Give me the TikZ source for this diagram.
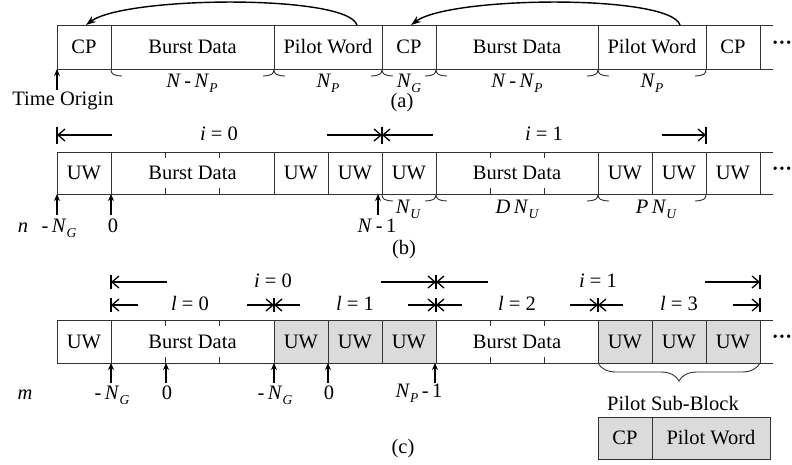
\documentclass[tikz,border=0pt]{standalone}
\usepackage{fontspec}
\setmainfont{Liberation Serif}
\usetikzlibrary{arrows.meta,decorations.pathreplacing,calc}
\newcommand{\Sb}[1]{\raisebox{-0.26em}{\fontsize{13.5}{14}\selectfont\itshape #1}}
\newcommand{\vN}{\textit{N}}
\newcommand{\cell}[7][white]{\node[cellbox,fill=#1,minimum width={(#4-#3)*1pt},minimum height={#6*1pt}] (#2) at (#3,#5) {#7};}
\newcommand{\lcurl}[2]{\draw[cline] (#1,#2) .. controls (#1,#2+5) and (#1+2,#2+6.5) .. (#1+11,#2+7);}
\newcommand{\rcurl}[2]{\draw[cline] (#1,#2) .. controls (#1,#2+5) and (#1-2,#2+6.5) .. (#1-11,#2+7);}
\begin{document}
\begin{tikzpicture}[x=1pt,y=-1pt,
  every node/.style={font=\fontsize{20.5}{24}\selectfont, inner sep=0pt, outer sep=0pt},
  cellbox/.style={draw=black!80, line width=0.9pt, anchor=north west},
  cline/.style={draw=black!80, line width=0.9pt},
  lab/.style={anchor=base},
  iarr/.style={line width=1.3pt, -{Straight Barb[length=7pt,width=12pt,line width=1.3pt]}},
  barline/.style={line width=1.1pt},
  uparr/.style={line width=1.3pt, -{Stealth[length=7pt,width=6pt]}},
  curvarr/.style={line width=1.4pt, -{Stealth[length=10pt,width=7pt]}}]
\useasboundingbox (0,0) rectangle (792,464);

% ---------------- Row (a) ----------------
\cell{a1}{57}{111}{25}{44}{CP}
\cell{a2}{111}{274}{25}{44}{Burst Data}
\cell{a3}{274}{382}{25}{44}{Pilot Word}
\cell{a4}{382}{436}{25}{44}{CP}
\cell{a5}{436}{598}{25}{44}{Burst Data}
\cell{a6}{598}{706}{25}{44}{Pilot Word}
\cell{a7}{706}{760}{25}{44}{CP}
\draw[cline] (a7.north east) -- ++(13,0) (a7.south east) -- ++(13,0);
\node (adots) at (782,45) {\textbf{···}};

\coordinate (cA1) at (357,25);
\coordinate (cA2) at (86,25);
\coordinate (cB1) at (680,25);
\coordinate (cB2) at (411,25);
\draw[curvarr] (cA1) .. controls (347,-6) and (125,-4) .. (cA2);
\draw[curvarr] (cB1) .. controls (670,-6) and (450,-4) .. (cB2);

\lcurl{111}{69} \rcurl{274}{69}
\lcurl{274}{69} \rcurl{382}{69}
\lcurl{382}{69} \rcurl{436}{69}
\lcurl{436}{69} \rcurl{598}{69}
\lcurl{598}{69} \rcurl{706}{69}

\node[lab] (la1) at (192,87) {\vN\,-\,\vN\Sb{P}};
\node[lab] (la2) at (328,87) {\vN\Sb{P}};
\node[lab] (la3) at (409,87) {\vN\Sb{G}};
\node[lab] (la4) at (517,87) {\vN\,-\,\vN\Sb{P}};
\node[lab] (la5) at (652,87) {\vN\Sb{P}};

\node[lab] (torig) at (63,105) {Time Origin};
\draw[uparr] ($(a1.south west)+(0,21)$) -- (a1.south west);
\node[lab] (capa) at (402,107) {(a)};

% ---------------- Row (b) ----------------
\draw[barline] (57,127) -- (57,144) (382,127) -- (382,144) (706,127) -- (706,144);
\draw[iarr] (112,135) -- (57,135);
\draw[iarr] (327,135) -- (382,135);
\draw[iarr] (433,135) -- (382,135);
\draw[iarr] (662,135) -- (706,135);
\node[lab] (ib0) at (219,140) {\textit{i} = 0};
\node[lab] (ib1) at (544,140) {\textit{i} = 1};

\cell{b1}{57}{111}{152}{42}{UW}
\cell{b2}{111}{274}{152}{42}{Burst Data}
\cell{b3}{274}{328}{152}{42}{UW}
\cell{b4}{328}{382}{152}{42}{UW}
\cell{b5}{382}{436}{152}{42}{UW}
\cell{b6}{436}{598}{152}{42}{Burst Data}
\cell{b7}{598}{652}{152}{42}{UW}
\cell{b8}{652}{706}{152}{42}{UW}
\cell{b9}{706}{760}{152}{42}{UW}
\draw[cline] (b9.north east) -- ++(13,0) (b9.south east) -- ++(13,0);
\node (bdots) at (782,171) {\textbf{···}};
\foreach \x in {165,219,490,544}{
  \draw[cline] (\x,152) -- ++(0,6) (\x,194) -- ++(0,-6);
}
\lcurl{382}{194}
\rcurl{436}{194} \lcurl{436}{194}
\rcurl{598}{194} \lcurl{598}{194}
\rcurl{706}{194}
\node[lab] (lb1) at (408,213) {\vN\Sb{U}};
\node[lab] (lb2) at (517,213) {\textit{D}\,\vN\Sb{U}};
\node[lab] (lb3) at (656,213) {\textit{P}\,\vN\Sb{U}};

\draw[uparr] ($(b1.south west)+(0,21)$) -- (b1.south west);
\draw[uparr] ($(b2.south west)+(0,21)$) -- (b2.south west);
\coordinate (bN1) at (378,194);
\draw[uparr] ($(bN1)+(0,21)$) -- (bN1);
\node[lab] (nlab) at (23,232) {\textit{n}};
\node[lab] (bng) at (59,232) {-\,\vN\Sb{G}};
\node[lab] (b0) at (113,232) {0};
\node[lab] (bn1) at (377,232) {\vN\,-\,1};
\node[lab] (capb) at (404,254) {(b)};

% ---------------- Row (c) ----------------
\draw[barline] (111,275) -- (111,289) (436,275) -- (436,289) (760,275) -- (760,289);
\draw[iarr] (167,282) -- (111,282);
\draw[iarr] (381,282) -- (436,282);
\draw[iarr] (488,282) -- (436,282);
\draw[iarr] (705,282) -- (760,282);
\node[lab] (ic0) at (273,287) {\textit{i} = 0};
\node[lab] (ic1) at (598,287) {\textit{i} = 1};

\draw[barline] (111,298) -- (111,312) (274,298) -- (274,312) (436,298) -- (436,312)
  (598,298) -- (598,312) (760,298) -- (760,312);
\draw[iarr] (138,305) -- (111,305);
\draw[iarr] (247,305) -- (274,305);
\draw[iarr] (300,305) -- (274,305);
\draw[iarr] (408,305) -- (436,305);
\draw[iarr] (462,305) -- (436,305);
\draw[iarr] (570,305) -- (598,305);
\draw[iarr] (623,305) -- (598,305);
\draw[iarr] (733,305) -- (760,305);
\node[lab] (l0) at (190,310) {\textit{l} = 0};
\node[lab] (l1) at (355,310) {\textit{l} = 1};
\node[lab] (l2) at (517,310) {\textit{l} = 2};
\node[lab] (l3) at (679,310) {\textit{l} = 3};

\colorlet{gfill}{black!14}
\cell{c1}{57}{111}{320}{43}{UW}
\cell{c2}{111}{274}{320}{43}{Burst Data}
\cell[gfill]{c3}{274}{328}{320}{43}{UW}
\cell[gfill]{c4}{328}{382}{320}{43}{UW}
\cell[gfill]{c5}{382}{436}{320}{43}{UW}
\cell{c6}{436}{598}{320}{43}{Burst Data}
\cell[gfill]{c7}{598}{652}{320}{43}{UW}
\cell[gfill]{c8}{652}{706}{320}{43}{UW}
\cell[gfill]{c9}{706}{760}{320}{43}{UW}
\draw[cline] (c9.north east) -- ++(13,0) (c9.south east) -- ++(13,0);
\node (cdots) at (782,339) {\textbf{···}};
\foreach \x in {165,219,490,544}{
  \draw[cline] (\x,320) -- ++(0,6) (\x,363) -- ++(0,-6);
}

\draw[uparr] ($(c2.south west)+(0,20)$) -- (c2.south west);
\coordinate (cz1) at (166,363);
\draw[uparr] ($(cz1)+(0,20)$) -- (cz1);
\draw[uparr] ($(c3.south west)+(0,20)$) -- (c3.south west);
\draw[uparr] ($(c4.south west)+(0,20)$) -- (c4.south west);
\coordinate (cnp) at (435,363);
\draw[uparr] ($(cnp)+(0,20)$) -- (cnp);
\node[lab] (mlab) at (25,399) {\textit{m}};
\node[lab] (cng1) at (112,399) {-\,\vN\Sb{G}};
\node[lab] (c01) at (167,399) {0};
\node[lab] (cng2) at (275,399) {-\,\vN\Sb{G}};
\node[lab] (c02) at (329,399) {0};
\node[lab] (cnp1) at (419,397) {\vN\Sb{P}\,-\,1};

\draw[cline, decorate, decoration={brace, mirror, amplitude=18pt}] (c7.south west) -- (c9.south east);
\node[lab] (psb) at (673,410) {Pilot Sub-Block};

\cell[gfill]{p1}{598}{652}{417}{42}{CP}
\cell[gfill]{p2}{652}{770}{417}{42}{Pilot Word}
\node[lab] (capc) at (403,453) {(c)};
\end{tikzpicture}
\end{document}
